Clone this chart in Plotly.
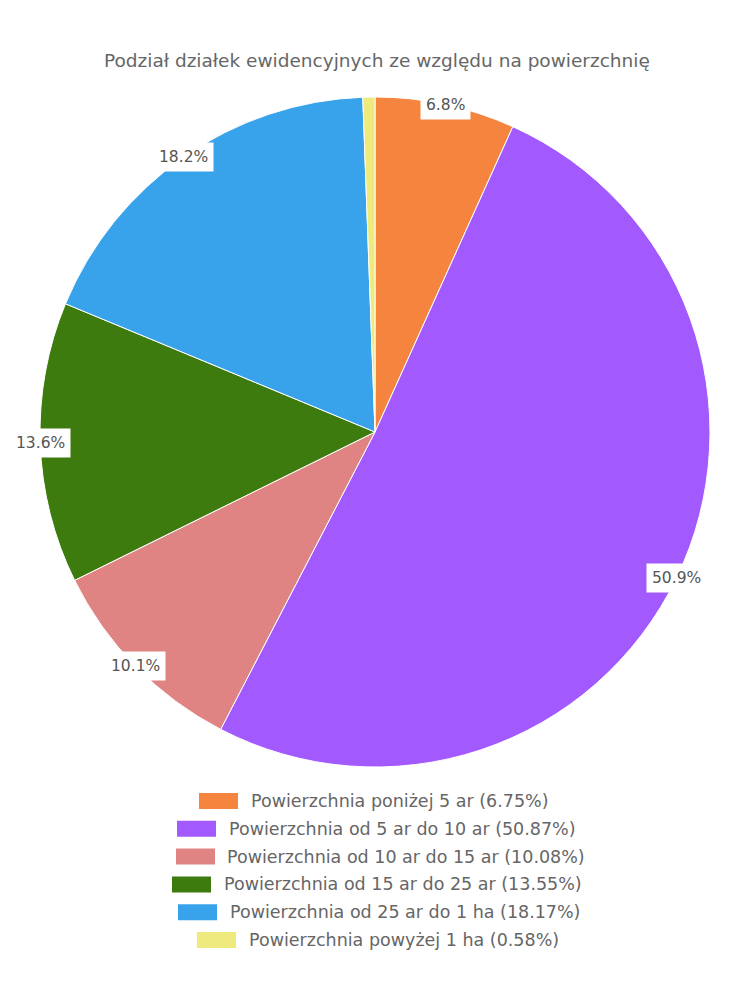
import math
import plotly.graph_objects as go

# ---- data ----
categories = [
    "Powierzchnia poniżej 5 ar",
    "Powierzchnia od 5 ar do 10 ar",
    "Powierzchnia od 10 ar do 15 ar",
    "Powierzchnia od 15 ar do 25 ar",
    "Powierzchnia od 25 ar do 1 ha",
    "Powierzchnia powyżej 1 ha",
]
values = [6.75, 50.87, 10.08, 13.55, 18.17, 0.58]
colors = ["#F5843F", "#A25AFF", "#E08383", "#3E7B0F", "#38A3EA", "#EEEA7D"]
title = "Podział działek ewidencyjnych ze względu na powierzchnię"

# ---- layout geometry (pixels) ----
W, H = 750, 1000
cx, cy, R = 375, 432, 335
FONT = "DejaVu Sans"
TXT = "#666666"

fig = go.Figure()
fig.add_trace(go.Pie(
    labels=categories, values=values, sort=False, direction="clockwise",
    rotation=0, marker=dict(colors=colors, line=dict(color="white", width=1)),
    textinfo="none", hoverinfo="label+percent", showlegend=False,
    domain=dict(x=[(cx - R) / W, (cx + R) / W], y=[1 - (cy + R) / H, 1 - (cy - R) / H]),
))

annotations = []
shapes = []
total = sum(values)
cum = 0.0
for v in values:
    mid = (cum + v / 2) / total * 2 * math.pi
    cum += v
    px = cx + R * math.sin(mid)
    py = cy - R * math.cos(mid)
    if v / total < 0.02:
        continue
    annotations.append(dict(
        x=px / W, y=1 - py / H, xref="paper", yref="paper",
        text=f"{v / total * 100:.1f}%", showarrow=False,
        font=dict(family=FONT, size=15.5, color="#555555"),
        bgcolor="white", borderpad=5, xanchor="center", yanchor="middle",
    ))

# title
annotations.append(dict(
    x=377 / W, y=1 - 60 / H, xref="paper", yref="paper", text=title,
    showarrow=False, font=dict(family=FONT, size=18.5, color=TXT),
    xanchor="center", yanchor="middle",
))

# legend (manual, rows centered)
rect_left = [199, 177, 176, 172, 178, 197]
text_left = [249, 227, 225, 222, 228, 247]
row_y0, row_dy = 801, 27.8
for i, (name, v, c) in enumerate(zip(categories, values, colors)):
    y = row_y0 + i * row_dy
    shapes.append(dict(
        type="rect", xref="paper", yref="paper",
        x0=rect_left[i] / W, x1=(rect_left[i] + 39) / W,
        y0=1 - (y + 8) / H, y1=1 - (y - 8) / H,
        fillcolor=c, line=dict(width=0),
    ))
    annotations.append(dict(
        x=text_left[i] / W, y=1 - y / H, xref="paper", yref="paper",
        text=f"{name} ({v:.2f}%)", showarrow=False,
        font=dict(family=FONT, size=17.5, color=TXT),
        xanchor="left", yanchor="middle",
    ))

fig.update_layout(
    width=W, height=H, margin=dict(l=0, r=0, t=0, b=0),
    paper_bgcolor="white", plot_bgcolor="white",
    annotations=annotations, shapes=shapes, showlegend=False,
)
fig.write_html("out.html")
